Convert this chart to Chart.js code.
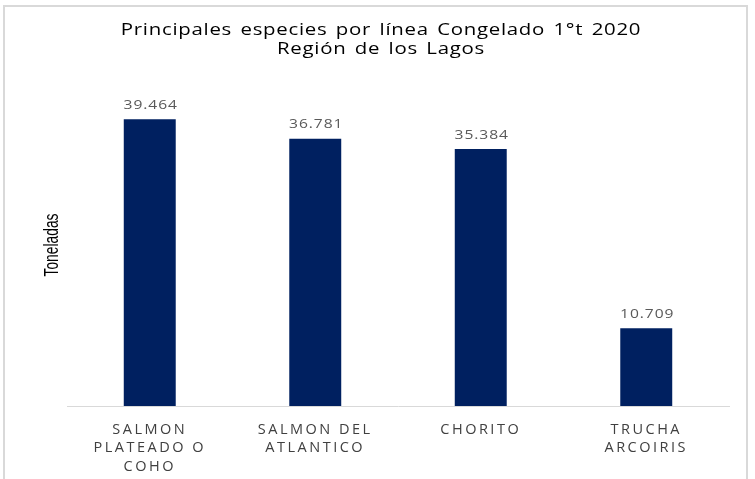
<!DOCTYPE html>
<html>
<head>
<meta charset="utf-8">
<script src="https://cdn.jsdelivr.net/npm/chart.js@4"></script>
<style>
html,body{margin:0;padding:0;background:#fff;}
#wrap{width:755px;height:479px;position:relative;}
</style>
</head>
<body>
<div id="wrap"><canvas id="c" width="755" height="479"></canvas></div>
<script>
const titleLines = ['Principales especies por línea Congelado 1°t 2020', 'Región de los Lagos'];
const categories = [['SALMON', 'PLATEADO O', 'COHO'], ['SALMON DEL', 'ATLANTICO'], ['CHORITO'], ['TRUCHA', 'ARCOIRIS']];
const values = [39464, 36781, 35384, 10709];
const yAxisTitle = 'Toneladas';

function fmt(v) { return String(v).replace(/\B(?=(\d{3})+(?!\d))/g, '.'); }

function wrapDraw(obj, ctx, ls, ws, sx) {
  if (!obj || obj._ls) return;
  const isScale = !!obj.drawLabels;
  const orig = isScale ? obj.drawLabels.bind(obj) : obj.draw.bind(obj);
  const fn = function (ca) {
    ctx.save();
    ctx.letterSpacing = ls;
    if (ws) ctx.wordSpacing = ws;
    if (sx) {
      const cx = (obj.left + obj.right) / 2;
      ctx.translate(cx, 0);
      ctx.scale(sx, 1);
      ctx.translate(-cx, 0);
    }
    orig(ca);
    ctx.restore();
  };
  if (isScale) obj.drawLabels = fn; else obj.draw = fn;
  obj._ls = true;
}

function wrapYTitle(scale, ctx, sy, cyTarget) {
  if (!scale || scale._lt) return;
  const orig = scale.drawTitle.bind(scale);
  scale.drawTitle = function () {
    const cy = (scale.top + scale.bottom) / 2;
    ctx.save();
    ctx.translate(0, cyTarget);
    ctx.scale(1, sy);
    ctx.translate(0, -cy);
    orig();
    ctx.restore();
  };
  scale._lt = true;
}

const framePlugin = {
  id: 'frame',
  beforeDraw(chart) {
    const ctx = chart.ctx;
    ctx.save();
    ctx.fillStyle = '#fff';
    ctx.fillRect(0, 0, chart.width, chart.height);
    ctx.strokeStyle = '#d9d9d9';
    ctx.lineWidth = 2;
    ctx.strokeRect(4, 6, 743, 490);
    ctx.restore();
    wrapDraw(chart.scales.x, ctx, '2.5px');
    wrapDraw(chart.titleBlock, ctx, '0.6px', '2px', 1.2);
    wrapYTitle(chart.scales.y, ctx, 0.69, 245);
  }
};

const labelPlugin = {
  id: 'vals',
  afterDatasetsDraw(chart) {
    const ctx = chart.ctx;
    const meta = chart.getDatasetMeta(0);
    meta.data.forEach((bar, i) => {
      ctx.save();
      ctx.font = '13px "Open Sans"';
      ctx.letterSpacing = '0.8px';
      ctx.fillStyle = '#595959';
      ctx.textAlign = 'center';
      ctx.textBaseline = 'middle';
      const cx = bar.x + 1;
      ctx.translate(cx, 0);
      ctx.scale(1.2, 1);
      ctx.fillText(fmt(values[i]), 0, bar.y - 14);
      ctx.restore();
    });
  }
};

new Chart(document.getElementById('c'), {
  type: 'bar',
  data: {
    labels: categories,
    datasets: [{
      data: values,
      backgroundColor: '#002060',
      borderWidth: 0,
      barPercentage: 0.314,
      categoryPercentage: 1
    }]
  },
  options: {
    responsive: false,
    animation: false,
    devicePixelRatio: 1,
    layout: { padding: { left: 7, right: 0, top: 0, bottom: 0 } },
    plugins: {
      legend: { display: false },
      tooltip: { enabled: false },
      title: {
        display: true,
        text: titleLines,
        color: '#000',
        font: { family: '"Open Sans"', size: 17, weight: 'normal', lineHeight: 1.15 },
        padding: { top: 20, bottom: 19.9 }
      }
    },
    scales: {
      x: {
        grid: { display: false, drawTicks: false },
        border: { display: true, color: '#d9d9d9', width: 1 },
        ticks: {
          color: '#404040',
          font: { family: '"Open Sans"', size: 14.5, lineHeight: 1.3 },
          padding: 14,
          maxRotation: 0,
          autoSkip: false
        },
        afterFit(s) { s.height = 73; }
      },
      y: {
        min: 0,
        max: 45000,
        grid: { display: false, drawTicks: false },
        border: { display: false },
        ticks: { display: false },
        title: {
          display: true,
          text: yAxisTitle,
          color: '#000',
          font: { family: '"Liberation Sans"', size: 20, lineHeight: 1.2 },
          padding: { top: 33, bottom: 0 }
        },
        afterFit(s) { s.width = 60; }
      },
      y2: {
        position: 'right',
        min: 0,
        max: 1,
        grid: { display: false, drawTicks: false },
        border: { display: false },
        ticks: { display: false },
        afterFit(s) { s.width = 26; }
      }
    }
  },
  plugins: [framePlugin, labelPlugin]
});
</script>
</body>
</html>
